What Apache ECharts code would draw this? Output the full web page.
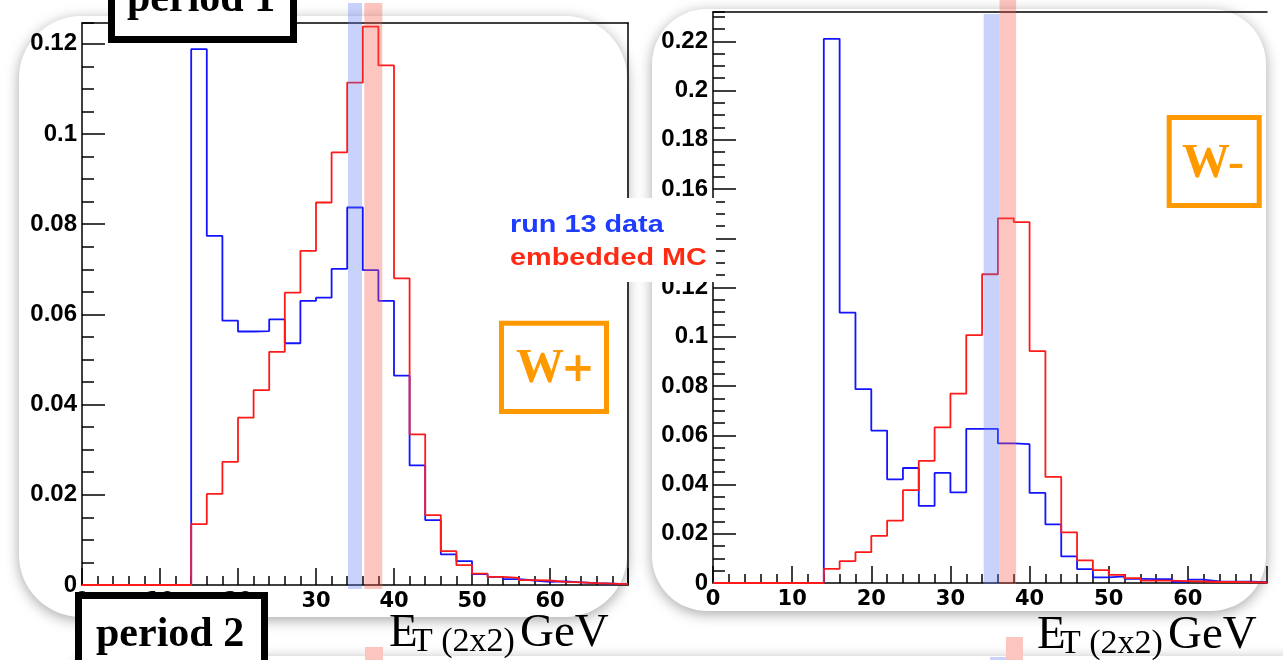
<!DOCTYPE html>
<html>
<head>
<meta charset="utf-8">
<script src="https://cdn.jsdelivr.net/npm/echarts@6/dist/echarts.min.js"></script>
<style>
  html, body { margin: 0; padding: 0; background: #fff; }
  #chart { width: 1283px; height: 660px; }
</style>
</head>
<body>
<div id="chart"></div>
<script>
// 2 GeV bins, low edges from 0 to 70
const binEdges = [0, 2, 4, 6, 8, 10, 12, 14, 16, 18, 20, 22, 24, 26, 28, 30, 32, 34,
  36, 38, 40, 42, 44, 46, 48, 50, 52, 54, 56, 58, 60, 62, 64, 66, 68, 70]

// W+ panel
const wPlusData = [0, 0, 0, 0, 0, 0, 0,
  0.1188, 0.0774, 0.0586, 0.0562, 0.0563, 0.0589, 0.0536, 0.0630, 0.0637, 0.0701,
  0.0837, 0.0698, 0.0630, 0.0464, 0.0265, 0.0144, 0.0068, 0.0053, 0.0024, 0.0018,
  0.0013, 0.0010, 0.0007, 0.0008, 0.0006, 0.0004, 0.0003, 0.0002]
const wPlusMC = [0, 0, 0, 0, 0, 0, 0,
  0.0135, 0.0202, 0.0273, 0.0371, 0.0432, 0.0517, 0.0648, 0.0741, 0.0848, 0.0959,
  0.1114, 0.1238, 0.1152, 0.0680, 0.0334, 0.0155, 0.0075, 0.0044, 0.0025, 0.0018,
  0.0016, 0.0011, 0.0010, 0.0007, 0.0006, 0.0004, 0.0003, 0.0002]

// W- panel
const wMinusData = [0, 0, 0, 0, 0, 0, 0,
  0.2210, 0.1098, 0.0787, 0.0619, 0.0421, 0.0467, 0.0313, 0.0447, 0.0368, 0.0626,
  0.0626, 0.0567, 0.0564, 0.0366, 0.0238, 0.0108, 0.0056, 0.0023, 0.0027, 0.0017,
  0.0016, 0.0016, 0.0005, 0.0014, 0.0007, 0.0005, 0.0005, 0.0003]
const wMinusMC = [0, 0, 0, 0, 0, 0, 0,
  0.0057, 0.0089, 0.0125, 0.0191, 0.0253, 0.0377, 0.0496, 0.0632, 0.0769, 0.1007,
  0.1254, 0.1481, 0.1466, 0.0942, 0.0431, 0.0206, 0.0092, 0.0052, 0.0033, 0.0020,
  0.0010, 0.0010, 0.0008, 0.0006, 0.0004, 0.0004, 0.0003, 0.0002]

// shaded E_T windows [from, to] in GeV
const bandsWplus = [[34.1, 35.9], [36.2, 38.5]]
const bandsWminus = [[34.2, 36.2], [36.2, 38.3]]

const BLUE = '#1414ff'
const RED = '#ff1a1a'
const ORANGE = '#ff9900'
const bandColors = ['rgba(98,126,241,0.35)', 'rgba(246,89,75,0.35)']

const chart = echarts.init(document.getElementById('chart'), null, { renderer: 'canvas' })

function histo (values) {
  const pts = values.map((v, i) => [binEdges[i], v])
  pts.push([binEdges[values.length], values[values.length - 1]])
  return pts
}

const black = { color: '#000', width: 1.5 }
const yFont = { fontFamily: 'Liberation Sans', fontWeight: 'bold', fontSize: 24, color: '#000' }
const xFont = { fontFamily: 'DejaVu Sans', fontWeight: 'bold', fontSize: 21, color: '#000' }

function xMain (grid) {
  return {
    type: 'value', gridIndex: grid, min: 0, max: 70, interval: 10, position: 'bottom',
    axisLine: { onZero: false, lineStyle: black },
    axisTick: { inside: true, length: 17, lineStyle: black },
    minorTick: { show: true, splitNumber: 5, length: 9, lineStyle: black },
    axisLabel: { margin: 6, showMaxLabel: false, ...xFont },
    splitLine: { show: false }
  }
}
function xFrame (grid) {
  return {
    type: 'value', gridIndex: grid, min: 0, max: 70, position: 'top',
    axisLine: { onZero: false, lineStyle: black },
    axisTick: { show: false }, axisLabel: { show: false }, splitLine: { show: false }
  }
}
function yMajor (grid, max) {
  return {
    type: 'value', gridIndex: grid, min: 0, max: max, interval: 0.02, position: 'left',
    axisLine: { onZero: false, lineStyle: black },
    axisTick: { inside: true, length: 23, lineStyle: black },
    axisLabel: { margin: 5, showMaxLabel: false, ...yFont },
    splitLine: { show: false }
  }
}
function yMinor (grid, max) {
  return {
    type: 'value', gridIndex: grid, min: 0, max: max, interval: 0.005, position: 'left',
    axisLine: { show: false, onZero: false },
    axisTick: { inside: true, length: 12, lineStyle: black },
    axisLabel: { show: false }, splitLine: { show: false }
  }
}
function hidden (grid, min, max) {
  return { type: 'value', gridIndex: grid, min: min, max: max, show: false, splitLine: { show: false } }
}
function line (xi, yi, values, color) {
  return {
    type: 'line', xAxisIndex: xi, yAxisIndex: yi, step: 'end', symbol: 'none',
    data: histo(values), silent: true, animation: false,
    lineStyle: { color: color, width: 1.8 }, itemStyle: { color: color }
  }
}
function bands (xi, yi, ranges, tops) {
  return {
    type: 'custom', xAxisIndex: xi, yAxisIndex: yi, silent: true, animation: false, clip: false, z: 4,
    encode: { x: [0, 1], y: [2, 3] },
    data: ranges.map((r, i) => [r[0], r[1], 0, tops[i]]),
    renderItem: (params, api) => {
      const a = api.coord([api.value(0), api.value(2)])
      const b = api.coord([api.value(1), api.value(3)])
      return {
        type: 'rect',
        shape: { x: a[0], y: b[1], width: b[0] - a[0], height: a[1] - b[1] },
        style: { fill: bandColors[params.dataIndex] }
      }
    }
  }
}

const serif = 'Liberation Serif'
function txt (x, y, text, size, opts = {}) {
  return {
    type: 'text', x: x, y: y, z: 100, silent: true, scaleX: opts.scaleX || 1,
    style: {
      text: text, fontFamily: opts.family || serif, fontSize: size,
      fontWeight: opts.weight || 'normal', fill: opts.color || '#000',
      align: opts.align || 'left', verticalAlign: 'middle'
    }
  }
}
function box (x, y, w, h, stroke, lw) {
  return {
    type: 'rect', z: 99, silent: true, shape: { x: x, y: y, width: w, height: h },
    style: { fill: '#fff', stroke: stroke, lineWidth: lw }
  }
}
function card (x, y, w, h, r) {
  return {
    type: 'rect', z: -10, silent: true, shape: { x: x, y: y, width: w, height: h, r: r },
    style: { fill: '#fff', shadowBlur: 14, shadowColor: 'rgba(0,0,0,0.35)', shadowOffsetY: 3 }
  }
}
function patch (x, y, w, h, color) {
  return { type: 'rect', z: 98, silent: true, shape: { x: x, y: y, width: w, height: h }, style: { fill: color } }
}

const option = {
  backgroundColor: '#fff',
  animation: false,
  grid: [
    { left: 82, top: 23, width: 546, height: 562, containLabel: false, outerBoundsMode: 'none' },
    { left: 713, top: 12, width: 554, height: 571, containLabel: false, outerBoundsMode: 'none' },
    { left: 82, top: 3, width: 546, height: 586, containLabel: false, outerBoundsMode: 'none' },
    { left: 713, top: 0, width: 554, height: 584, containLabel: false, outerBoundsMode: 'none' }
  ],
  xAxis: [
    xMain(0), xFrame(0), xMain(1), xFrame(1),
    hidden(2, 0, 70), hidden(3, 0, 70)
  ],
  yAxis: [
    yMajor(0, 0.1246), yMinor(0, 0.1246),
    {
      type: 'value', gridIndex: 0, min: 0, max: 0.1246, position: 'right',
      axisLine: { onZero: false, lineStyle: black },
      axisTick: { show: false }, axisLabel: { show: false }, splitLine: { show: false }
    },
    yMajor(1, 0.2319), yMinor(1, 0.2319),
    hidden(2, 0, 1), hidden(3, 0, 1)
  ],
  series: [
    line(0, 0, wPlusData, BLUE),
    line(0, 0, wPlusMC, RED),
    line(2, 3, wMinusData, BLUE),
    line(2, 3, wMinusMC, RED),
    bands(4, 5, bandsWplus, [1, 1]),
    bands(5, 6, bandsWminus, [0.976, 1])
  ],
  graphic: {
    elements: [
      card(19, 16, 608, 601, 62),
      card(652, 9, 614, 602, 55),
      card(70, 656, 1240, 80, 24),

      box(111.5, -20, 182, 59.5, '#000', 7),
      txt(127, 0, 'period 1', 42, { weight: 'bold' }),
      box(78.5, 595.5, 186, 100, '#000', 7),
      txt(96, 635, 'period 2', 42, { weight: 'bold' }),

      box(495, 198, 221, 84, '#fff', 0),
      txt(510, 225, 'run 13 data', 24, { family: 'Liberation Sans', weight: 'bold', color: '#1e3cff', scaleX: 1.2 }),
      txt(510, 258, 'embedded MC', 24, { family: 'Liberation Sans', weight: 'bold', color: '#ff2a14', scaleX: 1.2 }),

      box(501.5, 323.2, 105, 88.3, ORANGE, 5),
      txt(540, 370, 'W', 48, { weight: 'bold', color: ORANGE, align: 'center' }),
      txt(578, 371, '+', 40, { family: 'DejaVu Sans', weight: 'bold', color: ORANGE, align: 'center' }),
      box(1169.2, 117.5, 90, 88, ORANGE, 5),
      txt(1213, 165, 'W-', 48, { weight: 'bold', color: ORANGE, align: 'center' }),

      patch(365, 647, 18, 13, '#fcc5c0'),
      patch(1006, 637, 17, 23, '#fcc5c0'),
      patch(990, 657, 16, 3, '#c8d2fa'),

      txt(389, 634, 'E', 47),
      txt(412, 642, 'T (2x2)', 34),
      txt(520, 634, 'GeV', 47),
      txt(1037, 636, 'E', 47),
      txt(1060, 644, 'T (2x2)', 34),
      txt(1168, 636, 'GeV', 47)
    ]
  }
}

chart.setOption(option)
</script>
</body>
</html>
